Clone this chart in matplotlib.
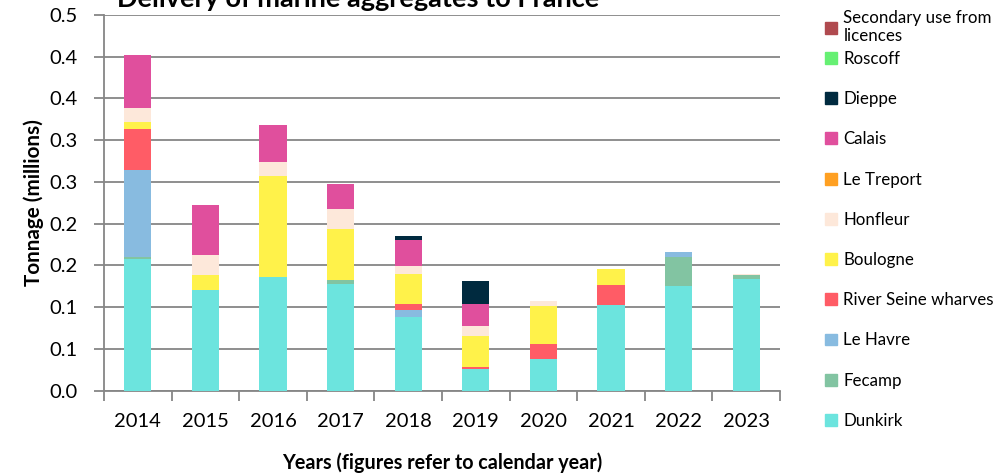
import numpy as np
import matplotlib
matplotlib.use("Agg")
import matplotlib.pyplot as plt
from matplotlib.patches import Patch

plt.rcParams['font.family'] = ['Lato', 'DejaVu Sans']

years = ['2014', '2015', '2016', '2017', '2018', '2019', '2020', '2021', '2022', '2023']

# tonnage in millions, stacked bottom-up in this order
dunkirk     = [0.158, 0.120, 0.136, 0.128, 0.088, 0.026, 0.038, 0.103, 0.125, 0.134]
fecamp      = [0.002, 0.000, 0.000, 0.004, 0.000, 0.000, 0.000, 0.000, 0.035, 0.004]
le_havre    = [0.104, 0.000, 0.000, 0.000, 0.009, 0.000, 0.000, 0.000, 0.006, 0.000]
river_seine = [0.050, 0.000, 0.000, 0.000, 0.007, 0.002, 0.018, 0.023, 0.000, 0.000]
boulogne    = [0.008, 0.018, 0.121, 0.062, 0.036, 0.038, 0.046, 0.020, 0.000, 0.000]
honfleur    = [0.017, 0.025, 0.017, 0.024, 0.009, 0.012, 0.005, 0.000, 0.000, 0.002]
le_treport  = [0.000, 0.000, 0.000, 0.000, 0.000, 0.000, 0.000, 0.000, 0.000, 0.000]
calais      = [0.063, 0.059, 0.044, 0.029, 0.031, 0.026, 0.000, 0.000, 0.000, 0.000]
dieppe      = [0.000, 0.000, 0.000, 0.000, 0.005, 0.027, 0.000, 0.000, 0.000, 0.000]
roscoff     = [0.000, 0.000, 0.000, 0.000, 0.000, 0.000, 0.000, 0.000, 0.000, 0.000]
secondary   = [0.000, 0.000, 0.000, 0.000, 0.000, 0.000, 0.000, 0.000, 0.000, 0.000]

series = [
    ('Dunkirk', dunkirk, '#6CE4DE'),
    ('Fecamp', fecamp, '#82C4A2'),
    ('Le Havre', le_havre, '#88BBE0'),
    ('River Seine wharves', river_seine, '#FF5C66'),
    ('Boulogne', boulogne, '#FFF24A'),
    ('Honfleur', honfleur, '#FDE8DA'),
    ('Le Treport', le_treport, '#FFA022'),
    ('Calais', calais, '#E04F9D'),
    ('Dieppe', dieppe, '#002A3F'),
    ('Roscoff', roscoff, '#66F073'),
    ('Secondary use from\nlicences', secondary, '#B04A4F'),
]

ytick_values = [0.0, 0.05, 0.10, 0.15, 0.20, 0.25, 0.30, 0.35, 0.40, 0.45]
ytick_labels = ['0.0', '0.1', '0.1', '0.2', '0.2', '0.3', '0.3', '0.4', '0.4', '0.5']

fig = plt.figure(figsize=(10, 4.75), dpi=100)
ax = fig.add_axes([0.104, 0.1775, 0.676, 0.791])

x = np.arange(len(years))
bottom = np.zeros(len(years))
for name, vals, col in series:
    vals = np.asarray(vals)
    ax.bar(x, vals, 0.4, bottom=bottom, color=col, zorder=3)
    bottom += vals

ax.set_xlim(-0.5, len(years) - 0.5)
ax.set_ylim(0, 0.45)
ax.set_yticks(ytick_values)
ax.set_yticklabels(ytick_labels)
ax.set_xticks(x)
ax.set_xticklabels(years)
ax.set_xticks(np.arange(-0.5, len(years)), minor=True)
ax.tick_params(axis='x', which='major', length=0, labelsize=14.5, pad=16)
ax.tick_params(axis='x', which='minor', length=7, color='#868686', width=1.3)
ax.tick_params(axis='y', length=7, color='#868686', width=1.3, labelsize=14.5, pad=12)

ax.grid(axis='y', color='#868686', linewidth=1.3, zorder=0)
for s in ['top', 'right']:
    ax.spines[s].set_visible(False)
for s in ['left', 'bottom']:
    ax.spines[s].set_color('#868686')
    ax.spines[s].set_linewidth(1.3)

ax.set_xlabel('Years (figures refer to calendar year)', fontsize=14.2, fontweight='bold', labelpad=16)
ax.set_ylabel('Tonnage (millions)', fontsize=14.9, fontweight='bold', labelpad=4)

fig.text(0.117, 1 - 7 / 475, 'Delivery of marine aggregates to France',
         fontsize=19.5, fontweight='bold', va='baseline', ha='left')

handles = [Patch(color=col, label=name) for name, vals, col in series[::-1]]
leg_opts = dict(loc='upper left', frameon=False, fontsize=12.2, handlelength=0.7,
                handleheight=0.7, handletextpad=0.4, labelspacing=1.43, borderaxespad=0)
# the two-line entry sits apart so the rest keep Excel's even spacing
fig.legend(handles=handles[:1], bbox_to_anchor=(0.818, 0.9935), **leg_opts)
fig.legend(handles=handles[1:], bbox_to_anchor=(0.818, 0.9073), **leg_opts)

fig.savefig('out.png', dpi=100)
